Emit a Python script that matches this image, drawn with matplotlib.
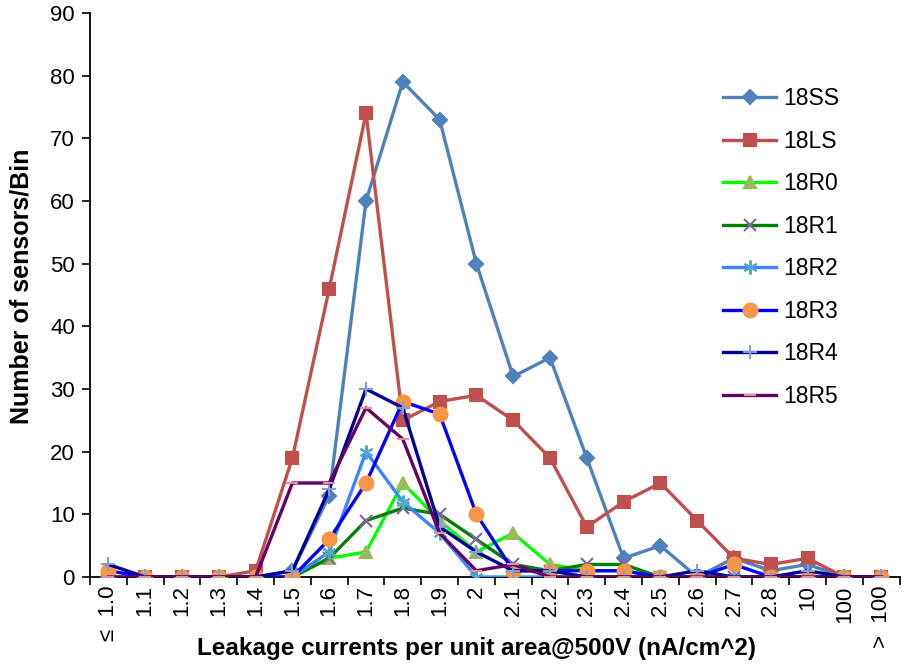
import matplotlib.pyplot as plt
import numpy as np

plt.rcParams['font.family'] = ['Liberation Sans', 'DejaVu Sans']

# bins of leakage current per unit area (nA/cm^2)
bins = ['\u2264  1.0', '1.1', '1.2', '1.3', '1.4', '1.5', '1.6', '1.7', '1.8', '1.9', '2',
        '2.1', '2.2', '2.3', '2.4', '2.5', '2.6', '2.7', '2.8', '10', '100', '>  100']

# sensors per bin for each batch
ss18 = [0, 0, 0, 0, 0, 1, 13, 60, 79, 73, 50, 32, 35, 19, 3, 5, 0, 3, 1, 2, 0, 0]
ls18 = [0, 0, 0, 0, 1, 19, 46, 74, 25, 28, 29, 25, 19, 8, 12, 15, 9, 3, 2, 3, 0, 0]
r0_18 = [0, 0, 0, 0, 0, 0, 3, 4, 15, 9, 4, 7, 2, 1, 1, 0, 0, 0, 0, 0, 0, 0]
r1_18 = [0, 0, 0, 0, 0, 0, 3, 9, 11, 10, 6, 2, 1, 2, 2, 0, 0, 0, 0, 0, 0, 0]
r2_18 = [0, 0, 0, 0, 0, 0, 4, 20, 12, 7, 0, 0, 0, 0, 0, 0, 0, 0, 0, 0, 0, 0]
r3_18 = [1, 0, 0, 0, 0, 0, 6, 15, 28, 26, 10, 1, 1, 1, 1, 0, 0, 2, 0, 0, 0, 0]
r4_18 = [2, 0, 0, 0, 0, 1, 14, 30, 27, 8, 4, 1, 1, 0, 0, 0, 1, 0, 0, 1, 0, 0]
r5_18 = [0, 0, 0, 0, 0, 15, 15, 27, 22, 7, 1, 2, 0, 0, 0, 0, 0, 0, 0, 0, 0, 0]

series = [
    ('18SS', ss18, '#4F81BD', 'D', '#4F81BD', 7),
    ('18LS', ls18, '#C0504D', 's', '#C0504D', 9),
    ('18R0', r0_18, '#00FF00', '^', '#9BBB59', 9),
    ('18R1', r1_18, '#008000', 'x', '#8064A2', 9),
    ('18R2', r2_18, '#3D85FF', (6, 2, 0), '#4BACC6', 10),
    ('18R3', r3_18, '#0000FF', 'o', '#F79646', 10),
    ('18R4', r4_18, '#000099', '+', '#7F9FD5', 10),
    ('18R5', r5_18, '#660066', '_', '#D99694', 9),
]

x = np.arange(len(bins))

fig, ax = plt.subplots(figsize=(9.05, 6.70), dpi=100)
fig.subplots_adjust(left=0.0995, right=0.994, top=0.9806, bottom=0.1388)

for name, vals, lc, mk, mc, ms in series:
    ax.plot(x, vals, color=lc, lw=2.4, marker=mk, markersize=ms,
            markerfacecolor=mc, markeredgecolor=mc, markeredgewidth=1.5,
            label=name, zorder=3)

ax.set_xlim(-0.5, len(bins) - 0.5)
ax.set_ylim(0, 90)
ax.set_yticks(range(0, 91, 10))

# category labels at the bin centres, tick marks on the bin boundaries
ax.set_xticks(x)
ax.set_xticklabels(bins, rotation=90, fontsize=16)
ax.tick_params(axis='x', which='major', length=0, pad=6)
ax.set_xticks(np.arange(-0.5, len(bins)), minor=True)
ax.tick_params(axis='x', which='minor', length=6, width=1.2, direction='out')
ax.tick_params(axis='y', labelsize=16, length=6, width=1.2, pad=5)

for s in ['top', 'right']:
    ax.spines[s].set_visible(False)
for s in ['left', 'bottom']:
    ax.spines[s].set_linewidth(1.3)

ax.set_ylabel('Number of sensors/Bin', fontsize=18, fontweight='bold')
ax.yaxis.set_label_coords(-0.070, 0.516)
ax.set_xlabel('Leakage currents per unit area@500V (nA/cm^2)', fontsize=17.5,
              fontweight='bold')
ax.xaxis.set_label_coords(0.478, -0.106)

ax.legend(loc='upper left', bbox_to_anchor=(0.757, 0.905), frameon=False,
          fontsize=16.5, handlelength=2.3, labelspacing=0.85, handletextpad=0.3)

fig.savefig('out.png', dpi=100)
